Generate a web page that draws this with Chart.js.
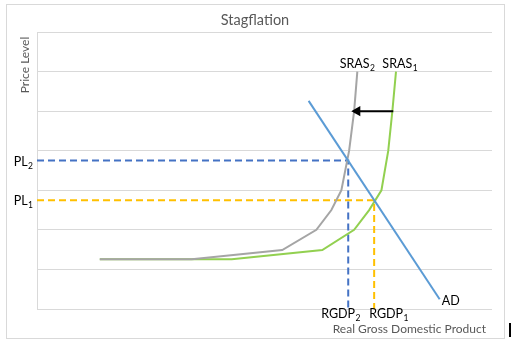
<!DOCTYPE html>
<html>
<head>
<meta charset="utf-8">
<script src="https://cdn.jsdelivr.net/npm/chart.js@4"></script>
<style>
  html, body { margin: 0; padding: 0; background: #fff; }
  canvas { display: block; }
</style>
</head>
<body>
<canvas id="stagChart" width="514" height="350"></canvas>
<script>
// curve data (x = real GDP, y = price level)
const sras1X = [13.8, 42.8, 62.7, 69.7, 73.0, 75.7, 77.2, 78.1, 78.9];
const sras1Y = [1.26, 1.26, 1.49, 2.0, 2.5, 3.0, 4.0, 5.0, 6.0];
const sras2X = [13.8, 34.0, 53.9, 61.4, 64.7, 66.9, 68.6, 69.7, 70.4];
const sras2Y = [1.26, 1.26, 1.49, 2.0, 2.5, 3.0, 4.0, 5.0, 6.0];
const adX = [59.7, 88.5];
const adY = [5.26, 0.245];
// equilibria: index 0 = before (1), index 1 = after (2)
const priceLevels = [2.75, 3.75];
const rgdpLevels = [74.1, 68.4];
const arrowX = [78.3, 70.4];
const arrowY = [5, 5];
const yTicks = [0, 1, 2, 3, 4, 5, 6, 7];

const pts = (xs, ys) => xs.map((x, i) => ({ x: x, y: ys[i] }));
const guide = (i) => [
  { x: 0, y: priceLevels[i] },
  { x: rgdpLevels[i], y: priceLevels[i] },
  { x: rgdpLevels[i], y: 0 }
];

const FONT = 'Lato, "Liberation Sans", sans-serif';

function subText(ctx, main, sub, x, y, align, color) {
  ctx.save();
  ctx.fillStyle = color || '#000';
  ctx.textBaseline = 'alphabetic';
  ctx.font = '12.5px ' + FONT;
  const w1 = ctx.measureText(main).width;
  ctx.font = '8.5px ' + FONT;
  const w2 = ctx.measureText(sub).width;
  const total = w1 + w2 + 0.5;
  let left = x;
  if (align === 'center') left = x - total / 2;
  else if (align === 'right') left = x - total;
  ctx.textAlign = 'left';
  ctx.font = '12.5px ' + FONT;
  ctx.fillText(main, left, y);
  ctx.font = '8.5px ' + FONT;
  ctx.fillText(sub, left + w1 + 0.5, y + 3);
  ctx.restore();
}

const labelsPlugin = {
  id: 'labels',
  beforeDraw(chart) {
    const ctx = chart.ctx;
    ctx.save();
    ctx.fillStyle = '#fff';
    ctx.fillRect(0, 0, chart.width, chart.height);
    ctx.strokeStyle = '#D9D9D9';
    ctx.lineWidth = 1;
    ctx.strokeRect(6.5, 4.5, 498, 334);
    ctx.restore();
  },
  afterDatasetsDraw(chart) {
    const ctx = chart.ctx;
    const xs = chart.scales.x, ys = chart.scales.y;
    const px = v => xs.getPixelForValue(v);
    const py = v => ys.getPixelForValue(v);

    ctx.save();
    // title
    ctx.fillStyle = '#595959';
    ctx.font = '14.5px ' + FONT;
    ctx.textAlign = 'center';
    ctx.textBaseline = 'middle';
    ctx.fillText('Stagflation', 255, 20);

    // axis titles
    ctx.font = '12px ' + FONT;
    ctx.textAlign = 'right';
    ctx.fillText('Real Gross Domestic Product', 486, 329);
    ctx.save();
    ctx.translate(25, 65);
    ctx.rotate(-Math.PI / 2);
    ctx.textAlign = 'center';
    ctx.fillText('Price Level', 0, 0);
    ctx.restore();

    // curve labels
    const n1 = sras1X.length - 1, n2 = sras2X.length - 1;
    subText(ctx, 'SRAS', '2', px(sras2X[n2]), py(sras2Y[n2]) - 4, 'center');
    subText(ctx, 'SRAS', '1', px(sras1X[n1]) + 4, py(sras1Y[n1]) - 4, 'center');
    subText(ctx, 'PL', '2', px(0) - 4, py(priceLevels[1]) + 5, 'right');
    subText(ctx, 'PL', '1', px(0) - 4, py(priceLevels[0]) + 5, 'right');
    subText(ctx, 'RGDP', '2', px(rgdpLevels[1]) - 27, py(0) + 9, 'left');
    subText(ctx, 'RGDP', '1', px(rgdpLevels[0]) - 5, py(0) + 9, 'left');
    ctx.fillStyle = '#000';
    ctx.font = '12.5px ' + FONT;
    ctx.textAlign = 'left';
    ctx.textBaseline = 'middle';
    ctx.fillText('AD', px(adX[1]) + 2, py(adY[1]) + 2);

    // cursor bar seen in the screenshot
    ctx.fillStyle = '#000';
    ctx.fillRect(509, 323, 2, 14);
    ctx.restore();
  }
};

new Chart(document.getElementById('stagChart'), {
  type: 'scatter',
  data: {
    datasets: [
      {
        label: 'Arrow',
        data: pts(arrowX, arrowY),
        showLine: true,
        borderColor: '#000',
        backgroundColor: '#000',
        borderWidth: 2,
        pointRadius: [0, 4],
        pointStyle: 'triangle',
        rotation: -90,
        order: 0
      },
      {
        label: 'AD',
        data: pts(adX, adY),
        showLine: true,
        borderColor: '#5B9BD5',
        borderWidth: 2,
        pointRadius: 0,
        order: 1
      },
      {
        label: 'SRAS2',
        data: pts(sras2X, sras2Y),
        showLine: true,
        borderColor: '#A5A5A5',
        borderWidth: 2,
        pointRadius: 0,
        order: 2
      },
      {
        label: 'SRAS1',
        data: pts(sras1X, sras1Y),
        showLine: true,
        borderColor: '#92D050',
        borderWidth: 2,
        pointRadius: 0,
        order: 3
      },
      {
        label: 'PL2',
        data: guide(1),
        showLine: true,
        borderColor: '#4472C4',
        borderWidth: 2,
        borderDash: [7, 4],
        pointRadius: 0,
        order: 4
      },
      {
        label: 'PL1',
        data: guide(0),
        showLine: true,
        borderColor: '#FFC000',
        borderWidth: 2,
        borderDash: [7, 4],
        pointRadius: 0,
        order: 5
      }
    ]
  },
  options: {
    responsive: false,
    animation: false,
    devicePixelRatio: 1,
    layout: { padding: { left: 37, top: 32, right: 22, bottom: 41 } },
    plugins: {
      legend: { display: false },
      title: { display: false },
      tooltip: { enabled: false }
    },
    elements: { line: { tension: 0 } },
    scales: {
      x: {
        type: 'linear',
        min: 0,
        max: 100,
        grid: { display: false, drawTicks: false },
        border: { display: false },
        ticks: { display: false }
      },
      y: {
        type: 'linear',
        min: yTicks[0],
        max: yTicks[yTicks.length - 1],
        afterBuildTicks: axis => { axis.ticks = yTicks.map(v => ({ value: v })); },
        grid: { color: '#D9D9D9', lineWidth: 1, drawTicks: false },
        border: { display: true, color: '#D9D9D9', width: 1 },
        ticks: { display: false }
      }
    }
  },
  plugins: [labelsPlugin]
});
</script>
</body>
</html>
